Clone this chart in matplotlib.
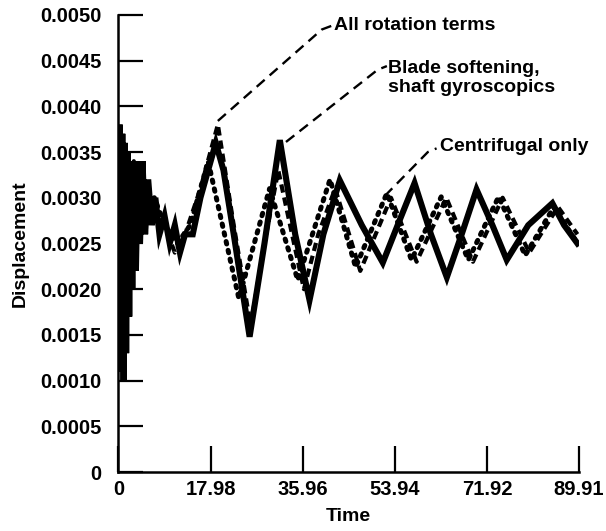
import numpy as np
import matplotlib
matplotlib.use("Agg")
import matplotlib.pyplot as plt

plt.rcParams['font.family'] = ['Liberation Sans', 'DejaVu Sans']
plt.rcParams['font.weight'] = 'bold'

# Blade softening, shaft gyroscopics (solid)
t_blade = [0, 0.25, 0.5, 0.75, 1.0, 1.25, 1.5, 1.8, 2.1, 2.4, 2.7, 3.0, 3.4, 3.8, 4.2,
           4.7, 5.2, 5.8, 6.5, 7.2, 8, 9, 10, 11, 12, 13, 14.5, 16, 17.5, 19, 20.5,
           22.5, 25.6, 28.5, 31.5, 34.5, 37.3, 40, 43.2, 47.5, 51.6, 54.5, 57.8, 61,
           64.1, 67, 69.9, 73, 75.8, 80, 84.7, 87, 89.6]
d_blade = [0.0030, 0.0038, 0.0011, 0.0037, 0.0010, 0.0036, 0.0013, 0.0035, 0.0017,
           0.0034, 0.0020, 0.0034, 0.0022, 0.0034, 0.0025, 0.0034, 0.0026, 0.0032,
           0.0027, 0.0030, 0.0026, 0.0028, 0.0025, 0.0027, 0.0024, 0.0026, 0.0026,
           0.0030, 0.0033, 0.0036, 0.0033, 0.0026, 0.00148, 0.0025, 0.00363, 0.0026,
           0.00188, 0.0026, 0.00319, 0.0027, 0.00229, 0.0027, 0.00316, 0.0026,
           0.00213, 0.0026, 0.00309, 0.0027, 0.00232, 0.0027, 0.00294, 0.0027, 0.0025]

# All rotation terms (short dashes)
t_allrot = [0, 0.4, 0.8, 1.2, 1.6, 2.0, 2.5, 3.0, 3.6, 4.2, 5, 6, 7.5, 9, 11, 13, 16,
            19.4, 22.5, 25.8, 28.5, 31.2, 33.5, 36.2, 39, 42.3, 47.2, 53.2, 58.2, 64,
            69.2, 75, 80.2, 85.8, 89.6]
d_allrot = [0.0029, 0.0035, 0.0020, 0.0035, 0.0022, 0.0034, 0.0024, 0.0034, 0.0026,
            0.0033, 0.0028, 0.0031, 0.0028, 0.0027, 0.0024, 0.0026, 0.0031, 0.0038,
            0.0027, 0.0016, 0.0025, 0.0033, 0.0027, 0.0020, 0.0026, 0.0031, 0.0022,
            0.0030, 0.0023, 0.0030, 0.0023, 0.0030, 0.0024, 0.0029, 0.0026]

# Centrifugal only (dotted)
t_centr = [0, 0.5, 1, 1.6, 2.2, 2.8, 3.5, 4.5, 5.5, 7, 9, 11.5, 14, 17.5, 23.5, 29.5,
           35, 41.3, 46.3, 52.4, 57.2, 63, 68.3, 74.2, 79.4, 85, 89.6]
d_centr = [0.0027, 0.0032, 0.0024, 0.0033, 0.0026, 0.0033, 0.0028, 0.0033, 0.0029,
           0.0030, 0.0027, 0.0025, 0.0027, 0.0034, 0.0019, 0.0031, 0.0021, 0.0032,
           0.00224, 0.00305, 0.00232, 0.00301, 0.00232, 0.00301, 0.00237, 0.0029, 0.0025]

xticks = [0, 17.98, 35.96, 53.94, 71.92, 89.91]
xticklabels = ['0', '17.98', '35.96', '53.94', '71.92', '89.91']
yticks = [0, 0.0005, 0.0010, 0.0015, 0.0020, 0.0025, 0.0030, 0.0035, 0.0040, 0.0045, 0.0050]
yticklabels = ['0', '0.0005', '0.0010', '0.0015', '0.0020', '0.0025', '0.0030',
               '0.0035', '0.0040', '0.0045', '0.0050']

fig = plt.figure(figsize=(6.06, 5.31), dpi=100)
ax = fig.add_axes([0.1955, 0.111, 0.76, 0.861])

ax.plot(t_centr, d_centr, color='black', lw=3.6, linestyle=(0, (0.5, 1.3)),
        dash_capstyle='round')
ax.plot(t_allrot, d_allrot, color='black', lw=3.0, linestyle=(0, (2.0, 1.2)))
ax.plot(t_blade, d_blade, color='black', lw=4.4, solid_joinstyle='miter')

# leader lines + labels
lead = dict(color='black', lw=1.7, linestyle=(0, (4.5, 2.8)), clip_on=False)
ax.plot([19.4, 39.7, 41.6], [0.00384, 0.00484, 0.00488], **lead)
ax.text(42.0, 0.00488, 'All rotation terms', fontsize=14, fontweight='bold',
        va='center', ha='left')
ax.plot([32.7, 50.6, 52.4], [0.00361, 0.00440, 0.00444], **lead)
ax.text(52.7, 0.00431, 'Blade softening,\nshaft gyroscopics', fontsize=14,
        fontweight='bold', va='center', ha='left', linespacing=1.12)
ax.plot([52.0, 60.4, 62.1], [0.00302, 0.00350, 0.00354], **lead)
ax.text(62.7, 0.00356, 'Centrifugal only', fontsize=14, fontweight='bold',
        va='center', ha='left')

ax.set_xlim(0, 89.91)
ax.set_ylim(0, 0.005)
ax.set_xticks(xticks)
ax.set_xticklabels(xticklabels)
ax.set_yticks(yticks)
ax.set_yticklabels(yticklabels)
ax.tick_params(axis='y', direction='in', length=18, width=1.6, pad=12, labelsize=14.5)
ax.tick_params(axis='x', direction='in', length=19, width=1.6, pad=6, labelsize=14.5)
for lab in ax.get_xticklabels() + ax.get_yticklabels():
    lab.set_fontweight('bold')

ax.spines['top'].set_visible(False)
ax.spines['right'].set_visible(False)
ax.spines['left'].set_linewidth(1.8)
ax.spines['bottom'].set_linewidth(1.8)

ax.set_xlabel('Time', fontsize=14, fontweight='bold', labelpad=6)
ax.set_ylabel('Displacement', fontsize=14, fontweight='bold', labelpad=8)

fig.savefig('out.png', dpi=100)
